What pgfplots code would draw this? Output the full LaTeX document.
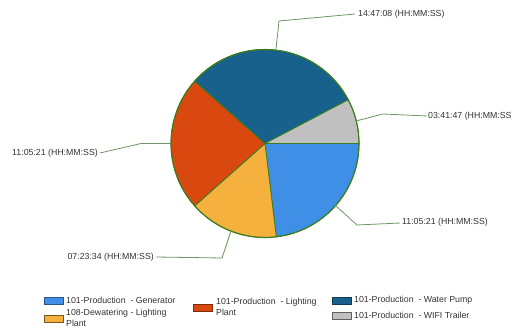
\documentclass[border=0pt]{standalone}
\usepackage{pgfplots}
\pgfplotsset{compat=1.18}
\usepackage{pgfplotstable}
\usepackage{fontspec}
\setmainfont{Liberation Sans}

\definecolor{cGen}{HTML}{3F8FE6}
\definecolor{cDew}{HTML}{F5B13D}
\definecolor{cLig}{HTML}{D9480F}
\definecolor{cPump}{HTML}{17618C}
\definecolor{cWifi}{HTML}{C0C0C0}
\definecolor{cEdge}{HTML}{3A7D1A}
\definecolor{cLead}{HTML}{6E9462}
\definecolor{cText}{HTML}{333333}

% durations in seconds (HH:MM:SS converted), clockwise from 3 o'clock
\pgfplotstableread{
key secs
Gen 39921
Dew 26614
Lig 39921
Pump 53228
Wifi 13307
}\piedata

\pgfplotstablegetelem{0}{secs}\of\piedata\edef\sA{\pgfplotsretval}
\pgfplotstablegetelem{1}{secs}\of\piedata\edef\sB{\pgfplotsretval}
\pgfplotstablegetelem{2}{secs}\of\piedata\edef\sC{\pgfplotsretval}
\pgfplotstablegetelem{3}{secs}\of\piedata\edef\sD{\pgfplotsretval}
\pgfplotstablegetelem{4}{secs}\of\piedata\edef\sE{\pgfplotsretval}
\edef\total{\fpeval{\sA+\sB+\sC+\sD+\sE}}
\edef\aA{\fpeval{-360*\sA/\total}}
\edef\aB{\fpeval{\aA-360*\sB/\total}}
\edef\aC{\fpeval{\aB-360*\sC/\total}}
\edef\aD{\fpeval{\aC-360*\sD/\total}}
\edef\aE{\fpeval{\aD-360*\sE/\total}}

\newcommand\pieslice[3]{%
  \fill[#1, draw=cEdge, line width=0.8pt, line join=round]
    (axis cs:265,185.5) -- ++(#2:94bp) arc[start angle=#2, end angle=#3, radius=94bp] -- cycle;}

\begin{document}
\begin{tikzpicture}
\begin{axis}[scale only axis, width=512bp, height=329bp,
  xmin=0, xmax=512, ymin=0, ymax=329, hide axis, clip=false]
  \coordinate (BL) at (axis cs:0,0);
  \coordinate (TR) at (axis cs:512,329);
  \pieslice{cGen}{0}{\aA}
  \pieslice{cDew}{\aA}{\aB}
  \pieslice{cLig}{\aB}{\aC}
  \pieslice{cPump}{\aC}{\aD}
  \pieslice{cWifi}{\aD}{\aE}
  \draw[cEdge, line width=1.1pt] (axis cs:265,185.5) circle[radius=94bp];
  % leader lines
  \addplot[cLead, line width=0.8pt, mark=none] coordinates {(276,280) (279,308) (355,315)};
  \addplot[cLead, line width=0.8pt, mark=none] coordinates {(356,208) (383,215) (427,213)};
  \addplot[cLead, line width=0.8pt, mark=none] coordinates {(335,124) (357,104) (400,106)};
  \addplot[cLead, line width=0.8pt, mark=none] coordinates {(231,98) (222,71) (156,72)};
  \addplot[cLead, line width=0.8pt, mark=none] coordinates {(171,185.5) (141,185.5) (100,176)};
  \begin{scope}[every node/.style={font=\fontsize{8.8}{10.8}\selectfont, text=cText, inner sep=0pt}]
  \node[anchor=west] at (axis cs:358,315) {14:47:08 (HH:MM:SS)};
  \node[anchor=west] at (axis cs:428,213) {03:41:47 (HH:MM:SS)};
  \node[anchor=west] at (axis cs:402,107) {11:05:21 (HH:MM:SS)};
  \node[anchor=east] at (axis cs:154,72) {07:23:34 (HH:MM:SS)};
  \node[anchor=east] at (axis cs:98,176) {11:05:21 (HH:MM:SS)};
  % legend
  \filldraw[fill=cGen, draw=cGen!60!black, line width=0.6pt] (axis cs:44,25) rectangle (axis cs:63,32);
  \node[anchor=west] at (axis cs:66,28.5) {101-Production\ \ - Generator};
  \filldraw[fill=cDew, draw=cDew!50!black, line width=0.6pt] (axis cs:44,7) rectangle (axis cs:63,14);
  \node[anchor=west, align=left] at (axis cs:66,11.5) {108-Dewatering - Lighting\\Plant};
  \filldraw[fill=cLig, draw=cLig!60!black, line width=0.6pt] (axis cs:193,18) rectangle (axis cs:212,25);
  \node[anchor=west, align=left] at (axis cs:216,22.5) {101-Production\ \ - Lighting\\Plant};
  \filldraw[fill=cPump, draw=cPump!60!black, line width=0.6pt] (axis cs:332,25) rectangle (axis cs:351,32);
  \node[anchor=west] at (axis cs:354,28.5) {101-Production\ \ - Water Pump};
  \filldraw[fill=cWifi, draw=cWifi!50!black, line width=0.6pt] (axis cs:332,10) rectangle (axis cs:351,17);
  \node[anchor=west] at (axis cs:354,13.5) {101-Production\ \ - WIFI Trailer};
  \end{scope}
\end{axis}
\pgfresetboundingbox
\path[use as bounding box] (BL) rectangle (TR);
\end{tikzpicture}
\end{document}
